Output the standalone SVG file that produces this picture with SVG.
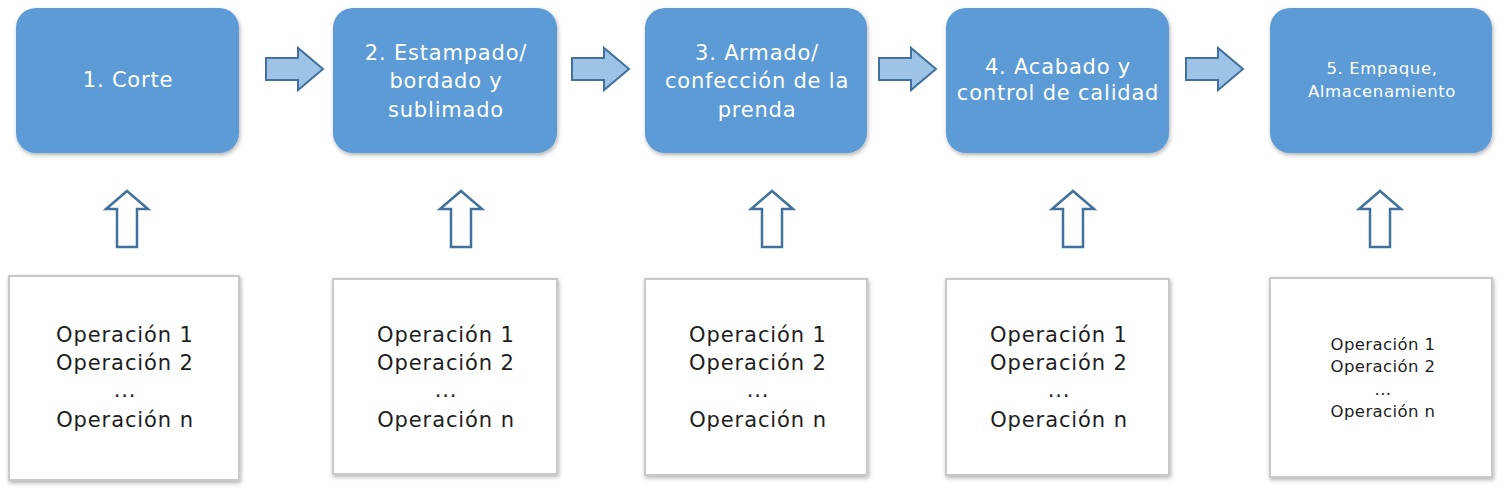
<svg xmlns="http://www.w3.org/2000/svg" width="1506" height="492" viewBox="0 0 1506 492">
<defs>
<filter id="sh" x="-10%" y="-10%" width="120%" height="120%">
<feDropShadow dx="1" dy="2" stdDeviation="2" flood-color="#000" flood-opacity="0.3"/>
</filter>
<path id="ra" d="M0,-11 L32,-11 L32,-21 L57,0 L32,21 L32,11 L0,11 Z"/>
<path id="ua" d="M0,0 L21,18 L10,18 L10,56 L-10,56 L-10,18 L-21,18 Z"/>
</defs>
<style>
.step{fill:#5B9BD5;filter:url(#sh)}
.ops{fill:#fff;stroke:#c9c9c9;stroke-width:2;filter:url(#sh)}
.tw{fill:#fff;font-family:"DejaVu Sans",Verdana,sans-serif;font-size:21px;letter-spacing:0.8px;text-anchor:middle}
.tb{fill:#1e1e1e;font-family:"DejaVu Sans",Verdana,sans-serif;font-size:21px;letter-spacing:0.9px;text-anchor:middle}
.s5{font-size:16.5px;letter-spacing:0.6px}
.o5{font-size:16.5px;letter-spacing:0.4px}
.rarrow{fill:#9DC3E6;stroke:#41719C;stroke-width:2}
.uarrow{fill:#fff;stroke:#41719C;stroke-width:2.5}
</style>
<rect width="1506" height="492" fill="#fff"/>
<g id="step1"><rect class="step" x="16" y="8" width="223" height="145" rx="20"/><text class="tw" x="128" y="87">1. Corte</text></g>
<g id="step2"><rect class="step" x="333" y="8" width="224" height="145" rx="20"/><text class="tw" x="446" y="60">2. Estampado/</text><text class="tw" x="446" y="88">bordado y</text><text class="tw" x="446" y="117">sublimado</text></g>
<g id="step3"><rect class="step" x="645" y="8" width="222" height="145" rx="20"/><text class="tw" x="757" y="60">3. Armado/</text><text class="tw" x="757" y="88">confección de la</text><text class="tw" x="757" y="117">prenda</text></g>
<g id="step4"><rect class="step" x="946" y="8" width="223" height="145" rx="20"/><text class="tw" x="1058" y="74">4. Acabado y</text><text class="tw" x="1058" y="100">control de calidad</text></g>
<g id="step5"><rect class="step" x="1270" y="8" width="222" height="145" rx="20"/><text class="tw s5" x="1382" y="74">5. Empaque,</text><text class="tw s5" x="1382" y="97">Almacenamiento</text></g>
<g id="ops1"><rect class="ops" x="9" y="276" width="230" height="204"/><text class="tb" x="125" y="342">Operación 1</text><text class="tb" x="125" y="370">Operación 2</text><text class="tb" x="125" y="397">...</text><text class="tb" x="125" y="427">Operación n</text></g>
<g id="ops2"><rect class="ops" x="333" y="279" width="224" height="195"/><text class="tb" x="446" y="342">Operación 1</text><text class="tb" x="446" y="370">Operación 2</text><text class="tb" x="446" y="397">...</text><text class="tb" x="446" y="427">Operación n</text></g>
<g id="ops3"><rect class="ops" x="645" y="279" width="222" height="196"/><text class="tb" x="758" y="342">Operación 1</text><text class="tb" x="758" y="370">Operación 2</text><text class="tb" x="758" y="397">...</text><text class="tb" x="758" y="427">Operación n</text></g>
<g id="ops4"><rect class="ops" x="946" y="279" width="223" height="196"/><text class="tb" x="1059" y="342">Operación 1</text><text class="tb" x="1059" y="370">Operación 2</text><text class="tb" x="1059" y="397">...</text><text class="tb" x="1059" y="427">Operación n</text></g>
<g id="ops5"><rect class="ops" x="1270" y="278" width="222" height="199"/><text class="tb o5" x="1383" y="350">Operación 1</text><text class="tb o5" x="1383" y="372">Operación 2</text><text class="tb o5" x="1383" y="395">...</text><text class="tb o5" x="1383" y="417">Operación n</text></g>
<g id="connectors">
<use href="#ra" class="rarrow" x="266" y="69"/>
<use href="#ra" class="rarrow" x="572" y="69"/>
<use href="#ra" class="rarrow" x="879" y="69"/>
<use href="#ra" class="rarrow" x="1186" y="69"/>
<use href="#ua" class="uarrow" x="127" y="191"/>
<use href="#ua" class="uarrow" x="461" y="191"/>
<use href="#ua" class="uarrow" x="772" y="191"/>
<use href="#ua" class="uarrow" x="1073" y="191"/>
<use href="#ua" class="uarrow" x="1380" y="191"/>
</g>
</svg>
